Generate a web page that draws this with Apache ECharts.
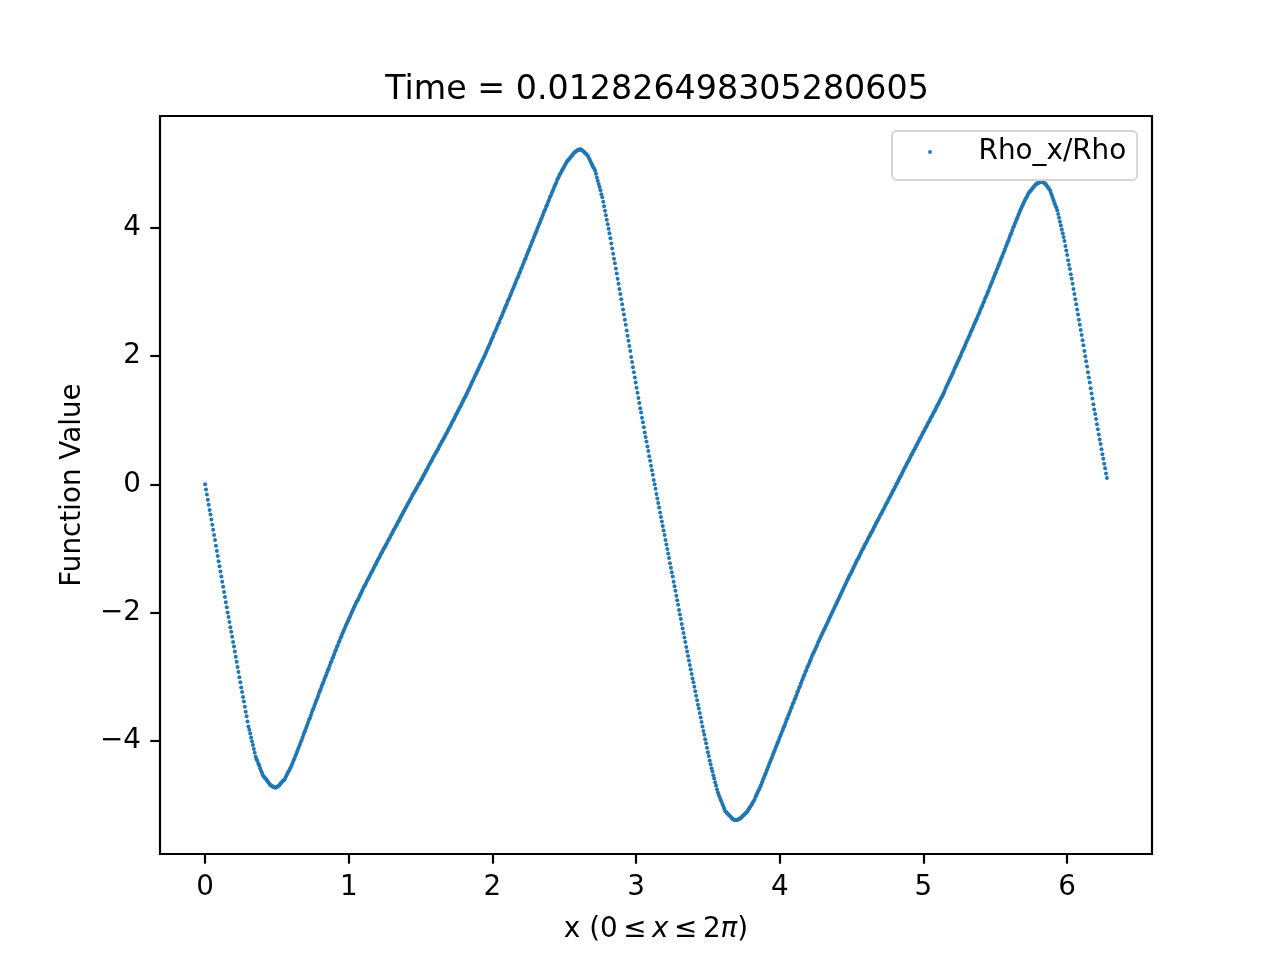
<!DOCTYPE html>
<html>
<head>
<meta charset="utf-8">
<script src="https://cdn.jsdelivr.net/npm/echarts@6/dist/echarts.min.js"></script>
<style>
html,body{margin:0;padding:0;background:#fff;}
#chart{width:1280px;height:960px;}
</style>
</head>
<body>
<div id="chart"></div>
<script>
// Title / labels
const chartTitle = 'Time = 0.012826498305280605';
const seriesName = 'Rho_x/Rho';
const yAxisTitle = 'Function Value';
// x grid: 1000 samples over [0, 2π), x_i = i * 2π / 1000
const sampleCount = 1000;
const xEnd = 2 * Math.PI;
// tick labels
const xTicks = [0, 1, 2, 3, 4, 5, 6];
const yTicks = [-4, -2, 0, 2, 4];
// Rho_x/Rho values (one row = 8 consecutive samples)
const rhoXOverRho = [
0,-0.08,-0.16,-0.24,-0.32,-0.40,-0.47,-0.55,
-0.63,-0.71,-0.79,-0.87,-0.96,-1.04,-1.12,-1.20,
-1.28,-1.36,-1.44,-1.52,-1.60,-1.68,-1.76,-1.84,
-1.92,-2.00,-2.07,-2.15,-2.23,-2.30,-2.38,-2.46,
-2.53,-2.61,-2.69,-2.77,-2.85,-2.93,-3.01,-3.09,
-3.17,-3.24,-3.32,-3.39,-3.47,-3.55,-3.62,-3.70,
-3.78,-3.83,-3.89,-3.95,-4.01,-4.07,-4.13,-4.19,
-4.25,-4.29,-4.32,-4.36,-4.39,-4.43,-4.47,-4.50,
-4.54,-4.56,-4.58,-4.59,-4.61,-4.63,-4.65,-4.67,
-4.69,-4.70,-4.71,-4.72,-4.72,-4.73,-4.73,-4.73,
-4.72,-4.71,-4.70,-4.68,-4.66,-4.65,-4.63,-4.62,
-4.61,-4.58,-4.55,-4.52,-4.49,-4.47,-4.44,-4.41,
-4.38,-4.35,-4.31,-4.28,-4.24,-4.21,-4.17,-4.13,
-4.10,-4.06,-4.02,-3.99,-3.95,-3.91,-3.87,-3.84,
-3.80,-3.76,-3.72,-3.68,-3.65,-3.61,-3.57,-3.53,
-3.50,-3.46,-3.42,-3.38,-3.35,-3.31,-3.27,-3.23,
-3.20,-3.16,-3.12,-3.09,-3.05,-3.01,-2.98,-2.94,
-2.90,-2.87,-2.83,-2.79,-2.76,-2.72,-2.69,-2.65,
-2.61,-2.58,-2.54,-2.51,-2.47,-2.44,-2.40,-2.37,
-2.33,-2.30,-2.27,-2.24,-2.20,-2.17,-2.14,-2.11,
-2.08,-2.05,-2.01,-1.98,-1.95,-1.92,-1.89,-1.86,
-1.83,-1.81,-1.78,-1.75,-1.72,-1.69,-1.66,-1.63,
-1.60,-1.58,-1.55,-1.52,-1.49,-1.47,-1.44,-1.41,
-1.38,-1.36,-1.33,-1.30,-1.27,-1.25,-1.22,-1.19,
-1.16,-1.14,-1.11,-1.08,-1.06,-1.03,-1.00,-0.98,
-0.95,-0.93,-0.90,-0.87,-0.85,-0.82,-0.79,-0.77,
-0.74,-0.71,-0.69,-0.66,-0.64,-0.61,-0.58,-0.56,
-0.53,-0.50,-0.48,-0.45,-0.42,-0.40,-0.37,-0.35,
-0.32,-0.29,-0.27,-0.24,-0.22,-0.19,-0.16,-0.14,
-0.11,-0.09,-0.06,-0.04,-0.01,0.01,0.03,0.06,
0.08,0.11,0.14,0.16,0.19,0.22,0.24,0.27,
0.30,0.32,0.35,0.37,0.40,0.43,0.45,0.48,
0.50,0.53,0.55,0.58,0.61,0.63,0.66,0.68,
0.71,0.73,0.76,0.79,0.81,0.84,0.87,0.89,
0.92,0.95,0.98,1.00,1.03,1.06,1.09,1.11,
1.14,1.17,1.20,1.22,1.25,1.28,1.31,1.34,
1.36,1.39,1.42,1.45,1.48,1.51,1.54,1.57,
1.60,1.63,1.66,1.69,1.72,1.75,1.78,1.81,
1.84,1.87,1.90,1.93,1.96,1.99,2.02,2.05,
2.08,2.12,2.15,2.18,2.21,2.25,2.28,2.31,
2.35,2.38,2.41,2.44,2.48,2.51,2.54,2.58,
2.61,2.64,2.68,2.71,2.75,2.78,2.81,2.85,
2.88,2.91,2.95,2.98,3.02,3.05,3.08,3.12,
3.15,3.19,3.22,3.25,3.29,3.32,3.36,3.39,
3.43,3.46,3.50,3.53,3.57,3.60,3.64,3.67,
3.71,3.74,3.78,3.81,3.85,3.88,3.92,3.95,
3.99,4.02,4.06,4.09,4.13,4.16,4.20,4.24,
4.27,4.30,4.34,4.37,4.41,4.44,4.48,4.51,
4.55,4.58,4.61,4.65,4.68,4.71,4.75,4.78,
4.81,4.84,4.86,4.89,4.92,4.94,4.97,4.99,
5.02,5.04,5.06,5.07,5.09,5.11,5.13,5.14,
5.16,5.18,5.19,5.20,5.21,5.22,5.22,5.23,
5.23,5.22,5.21,5.20,5.19,5.17,5.16,5.14,
5.13,5.10,5.07,5.04,5.01,4.98,4.95,4.93,
4.90,4.85,4.79,4.74,4.69,4.64,4.59,4.53,
4.48,4.41,4.34,4.27,4.20,4.13,4.06,3.99,
3.92,3.84,3.76,3.68,3.60,3.52,3.45,3.37,
3.29,3.21,3.13,3.05,2.97,2.89,2.81,2.73,
2.65,2.57,2.49,2.40,2.32,2.24,2.16,2.08,
1.99,1.91,1.83,1.75,1.67,1.59,1.51,1.43,
1.35,1.27,1.19,1.12,1.04,0.97,0.89,0.81,
0.74,0.67,0.59,0.52,0.44,0.37,0.29,0.22,
0.15,0.07,0.00,-0.07,-0.15,-0.22,-0.29,-0.36,
-0.44,-0.51,-0.58,-0.65,-0.72,-0.79,-0.87,-0.94,
-1.01,-1.08,-1.15,-1.23,-1.30,-1.37,-1.44,-1.52,
-1.59,-1.66,-1.74,-1.81,-1.88,-1.96,-2.03,-2.10,
-2.18,-2.25,-2.32,-2.39,-2.46,-2.54,-2.61,-2.68,
-2.75,-2.82,-2.89,-2.96,-3.03,-3.09,-3.16,-3.23,
-3.30,-3.37,-3.44,-3.50,-3.57,-3.64,-3.71,-3.78,
-3.85,-3.91,-3.98,-4.04,-4.11,-4.18,-4.24,-4.31,
-4.37,-4.43,-4.48,-4.54,-4.59,-4.65,-4.70,-4.76,
-4.81,-4.85,-4.88,-4.92,-4.95,-4.99,-5.02,-5.06,
-5.10,-5.11,-5.13,-5.14,-5.16,-5.17,-5.19,-5.20,
-5.22,-5.23,-5.23,-5.24,-5.24,-5.24,-5.23,-5.23,
-5.22,-5.21,-5.20,-5.18,-5.17,-5.16,-5.14,-5.13,
-5.12,-5.10,-5.07,-5.05,-5.03,-5.01,-4.98,-4.96,
-4.94,-4.91,-4.87,-4.84,-4.81,-4.78,-4.75,-4.72,
-4.69,-4.65,-4.61,-4.58,-4.54,-4.51,-4.47,-4.44,
-4.40,-4.36,-4.33,-4.29,-4.26,-4.22,-4.18,-4.15,
-4.11,-4.08,-4.04,-4.01,-3.97,-3.93,-3.90,-3.86,
-3.83,-3.79,-3.76,-3.72,-3.68,-3.65,-3.61,-3.58,
-3.54,-3.50,-3.47,-3.43,-3.40,-3.36,-3.33,-3.29,
-3.25,-3.22,-3.18,-3.15,-3.11,-3.07,-3.04,-3.00,
-2.97,-2.93,-2.90,-2.86,-2.83,-2.80,-2.76,-2.73,
-2.69,-2.66,-2.63,-2.60,-2.57,-2.54,-2.51,-2.47,
-2.44,-2.41,-2.38,-2.35,-2.32,-2.29,-2.26,-2.23,
-2.20,-2.17,-2.14,-2.11,-2.08,-2.05,-2.02,-1.99,
-1.96,-1.93,-1.90,-1.87,-1.84,-1.81,-1.78,-1.75,
-1.72,-1.69,-1.66,-1.63,-1.60,-1.57,-1.54,-1.51,
-1.48,-1.45,-1.42,-1.40,-1.37,-1.34,-1.31,-1.28,
-1.25,-1.22,-1.19,-1.17,-1.14,-1.11,-1.08,-1.05,
-1.02,-1.00,-0.97,-0.94,-0.92,-0.89,-0.86,-0.83,
-0.81,-0.78,-0.75,-0.73,-0.70,-0.67,-0.65,-0.62,
-0.59,-0.56,-0.54,-0.51,-0.48,-0.46,-0.43,-0.40,
-0.38,-0.35,-0.32,-0.29,-0.27,-0.24,-0.21,-0.19,
-0.16,-0.13,-0.10,-0.08,-0.05,-0.02,0.01,0.03,
0.06,0.09,0.12,0.14,0.17,0.20,0.23,0.26,
0.28,0.31,0.34,0.36,0.39,0.42,0.45,0.47,
0.50,0.53,0.55,0.58,0.61,0.63,0.66,0.69,
0.72,0.74,0.77,0.80,0.82,0.85,0.88,0.90,
0.93,0.96,0.98,1.01,1.04,1.06,1.09,1.12,
1.14,1.17,1.20,1.23,1.25,1.28,1.31,1.34,
1.36,1.39,1.42,1.45,1.49,1.52,1.55,1.58,
1.61,1.64,1.67,1.70,1.73,1.76,1.80,1.83,
1.86,1.89,1.92,1.95,1.98,2.01,2.05,2.08,
2.11,2.14,2.17,2.21,2.24,2.27,2.30,2.33,
2.37,2.40,2.43,2.46,2.50,2.53,2.56,2.59,
2.63,2.66,2.69,2.73,2.76,2.79,2.83,2.86,
2.90,2.93,2.96,3.00,3.03,3.07,3.10,3.14,
3.17,3.21,3.24,3.28,3.31,3.35,3.38,3.42,
3.45,3.49,3.53,3.56,3.60,3.63,3.67,3.71,
3.74,3.78,3.81,3.85,3.89,3.92,3.96,4.00,
4.03,4.07,4.10,4.14,4.17,4.21,4.24,4.28,
4.31,4.34,4.37,4.40,4.43,4.46,4.48,4.51,
4.54,4.56,4.58,4.59,4.61,4.63,4.64,4.66,
4.68,4.69,4.70,4.71,4.71,4.72,4.72,4.72,
4.72,4.71,4.70,4.69,4.67,4.65,4.63,4.61,
4.59,4.55,4.51,4.47,4.43,4.39,4.35,4.32,
4.28,4.22,4.16,4.10,4.04,3.98,3.92,3.86,
3.80,3.72,3.65,3.58,3.50,3.43,3.36,3.28,
3.21,3.13,3.05,2.97,2.89,2.81,2.73,2.65,
2.57,2.49,2.41,2.33,2.25,2.17,2.08,2.00,
1.92,1.84,1.75,1.67,1.59,1.50,1.42,1.34,
1.25,1.17,1.10,1.02,0.94,0.86,0.78,0.70,
0.63,0.55,0.47,0.40,0.32,0.25,0.17,0.10
];

const points = rhoXOverRho.map((v, i) => [i * xEnd / sampleCount, v]);

const FONT = 'DejaVu Sans';
const FS = 27.8;   // 10pt at 200 dpi
const chart = echarts.init(document.getElementById('chart'), null, {renderer: 'canvas'});
const minusFmt = v => String(v).replace('-', '\u2212');
const TS = '\u2009';
// legend handle: small dot at the left of a 45.5 x 3.8 handle area
const legendIcon = 'path://M0,1.9 A1.9,1.9 0 1,1 3.8,1.9 A1.9,1.9 0 1,1 0,1.9 Z M45.5,1.9 L45.5,1.9 Z';

chart.setOption({
  animation: false,
  backgroundColor: '#ffffff',
  title: {
    text: chartTitle,
    left: 652, textAlign: 'center',
    top: 69,
    textStyle: {fontFamily: FONT, fontSize: 33.3, fontWeight: 'normal', color: '#000'}
  },
  legend: {
    left: 892, top: 131,
    orient: 'vertical',
    padding: [7, 11, 14, 36.1],
    backgroundColor: '#ffffff',
    borderColor: '#d5d5d5', borderWidth: 2, borderRadius: 5,
    icon: legendIcon,
    itemWidth: 45.5, itemHeight: 3.8,
    textStyle: {fontFamily: FONT, fontSize: FS, color: '#000'},
    data: [seriesName]
  },
  grid: {
    left: 160, top: 116, width: 992, height: 738,
    show: true, borderColor: '#000', borderWidth: 2.2, backgroundColor: 'transparent'
  },
  xAxis: {
    type: 'value',
    min: -0.3138, max: 6.5907,
    axisLine: {show: false, onZero: false},
    splitLine: {show: false},
    axisTick: {show: true, inside: false, length: 9.7, lineStyle: {color: '#000', width: 2.2}, customValues: xTicks},
    axisLabel: {show: true, margin: 20, fontFamily: FONT, fontSize: FS, color: '#000', customValues: xTicks, formatter: minusFmt},
    name: '{n|x (0' + TS + '≤' + TS + '}{i|x}{n|' + TS + '≤' + TS + '2}{i|π}{n|)}',
    nameLocation: 'middle',
    nameGap: 62,
    nameTextStyle: {
      fontFamily: FONT, fontSize: FS, color: '#000',
      rich: {
        n: {fontFamily: FONT, fontSize: FS, color: '#000'},
        i: {fontFamily: FONT, fontSize: FS, color: '#000', fontStyle: 'italic'}
      }
    }
  },
  yAxis: {
    type: 'value',
    min: -5.77, max: 5.75,
    axisLine: {show: false, onZero: false},
    splitLine: {show: false},
    axisTick: {show: true, inside: false, length: 9.7, lineStyle: {color: '#000', width: 2.2}, customValues: yTicks},
    axisLabel: {show: true, margin: 19, fontFamily: FONT, fontSize: FS, color: '#000', customValues: yTicks, formatter: minusFmt},
    name: yAxisTitle,
    nameLocation: 'middle',
    nameGap: 73,
    nameRotate: 90,
    nameTextStyle: {fontFamily: FONT, fontSize: FS, color: '#000'}
  },
  series: [{
    name: seriesName,
    type: 'scatter',
    data: points,
    symbol: 'circle',
    symbolSize: 4,
    itemStyle: {color: '#1f77b4', opacity: 1},
    emphasis: {disabled: true},
    large: false,
    silent: true
  }]
});
</script>
</body>
</html>
